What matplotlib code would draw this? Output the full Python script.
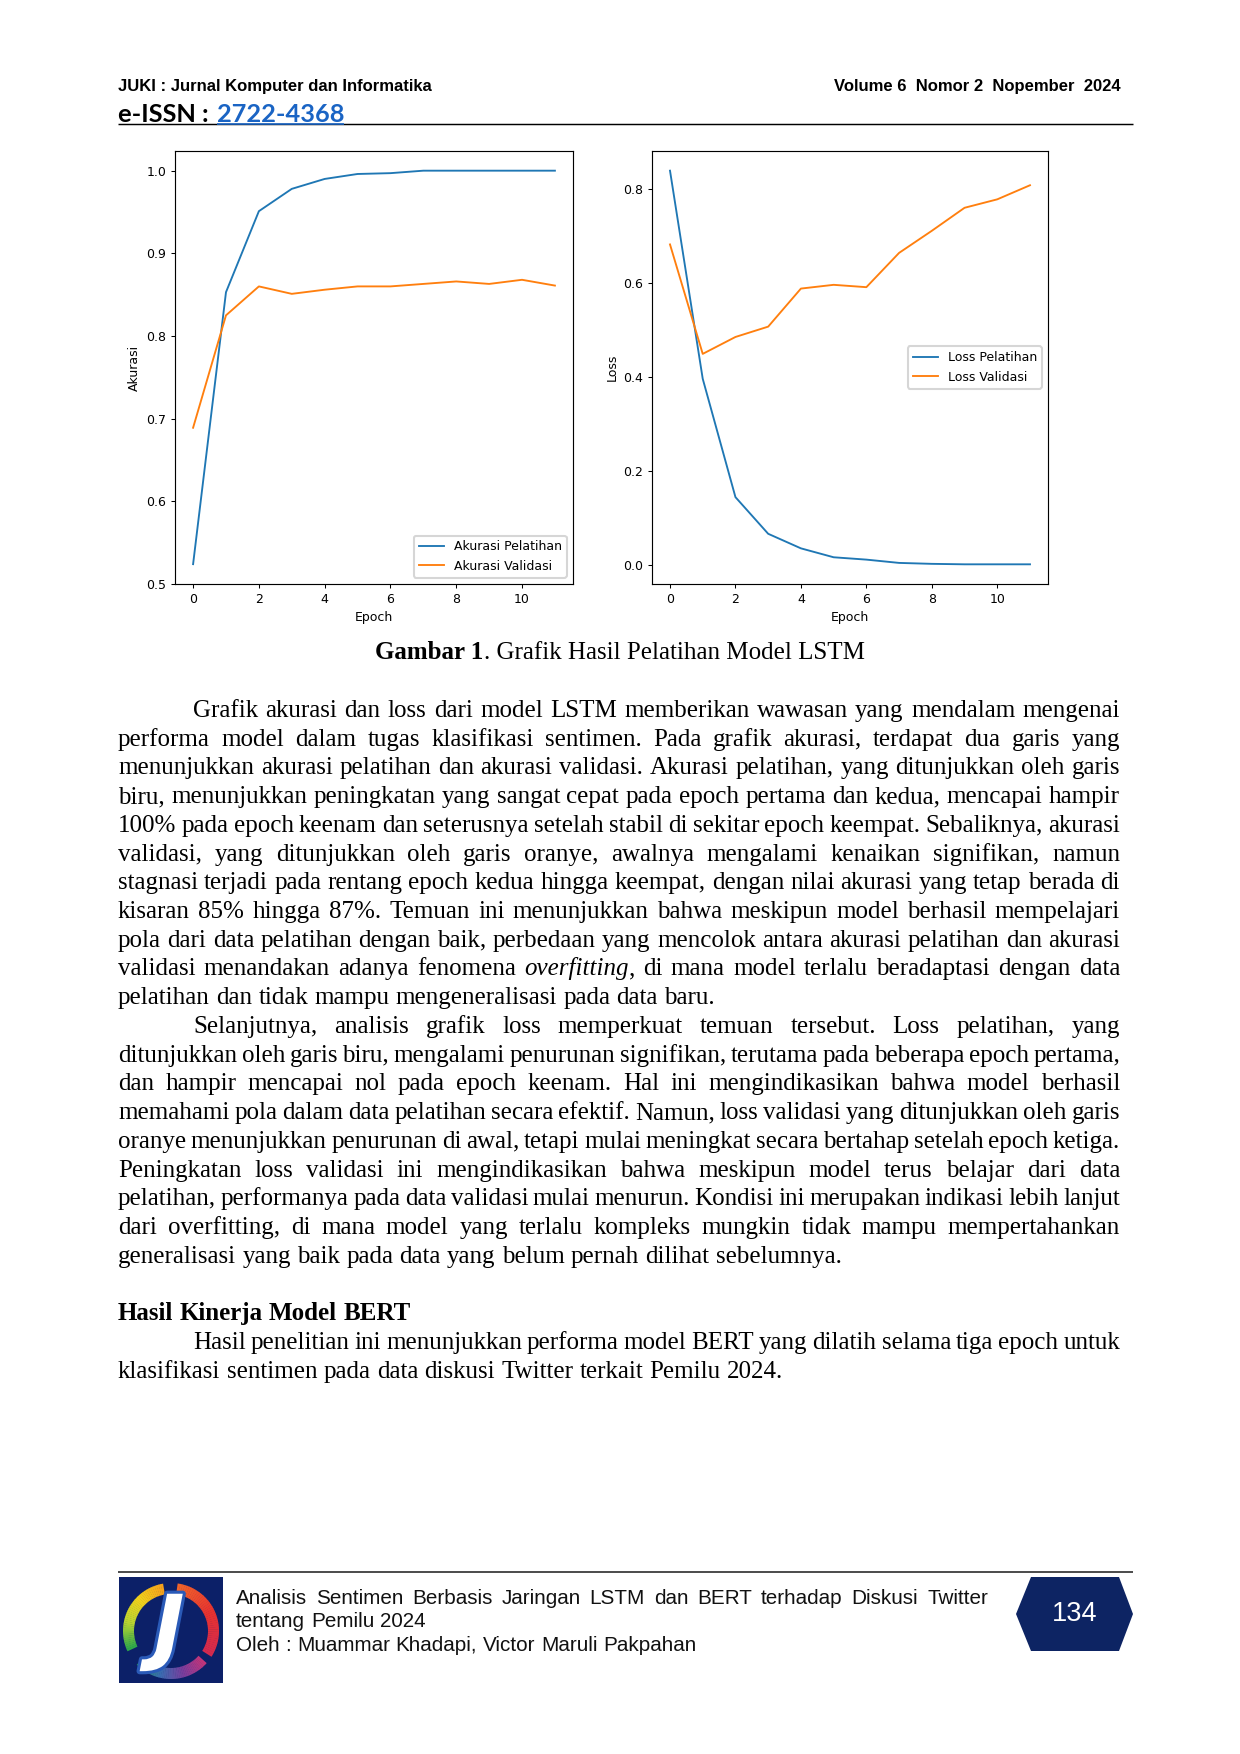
import matplotlib
matplotlib.use('Agg')
import matplotlib.pyplot as plt
import numpy as np
from matplotlib.patches import Polygon, Rectangle, Wedge
from matplotlib.lines import Line2D
from matplotlib.colors import LinearSegmentedColormap
import matplotlib.patheffects as pe

# ---------------- data ----------------
epochs = list(range(12))
acc_train = [0.524, 0.853, 0.951, 0.978, 0.990, 0.996, 0.997, 1.0, 1.0, 1.0, 1.0, 1.0]
acc_val = [0.689, 0.825, 0.860, 0.851, 0.856, 0.860, 0.860, 0.863, 0.866, 0.863, 0.868, 0.861]
loss_train = [0.839, 0.396, 0.144, 0.066, 0.035, 0.016, 0.011, 0.004, 0.002, 0.001, 0.001, 0.001]
loss_val = [0.682, 0.449, 0.485, 0.507, 0.588, 0.596, 0.591, 0.664, 0.711, 0.760, 0.778, 0.808]
epoch_ticks = [0, 2, 4, 6, 8, 10]
acc_ticks = [0.5, 0.6, 0.7, 0.8, 0.9, 1.0]
loss_ticks = [0.0, 0.2, 0.4, 0.6, 0.8]

header_left = "JUKI : Jurnal Komputer dan Informatika"
header_right = "Volume 6  Nomor 2  Nopember  2024"
issn_label = "e-ISSN : "
issn_number = "2722-4368"
caption_bold = "Gambar 1"
caption_rest = ". Grafik Hasil Pelatihan Model LSTM"

para1 = [
    "Grafik akurasi dan loss dari model LSTM memberikan wawasan yang mendalam mengenai",
    "performa model dalam tugas klasifikasi sentimen. Pada grafik akurasi, terdapat dua garis yang",
    "menunjukkan akurasi pelatihan dan akurasi validasi. Akurasi pelatihan, yang ditunjukkan oleh garis",
    "biru, menunjukkan peningkatan yang sangat cepat pada epoch pertama dan kedua, mencapai hampir",
    "100% pada epoch keenam dan seterusnya setelah stabil di sekitar epoch keempat. Sebaliknya, akurasi",
    "validasi, yang ditunjukkan oleh garis oranye, awalnya mengalami kenaikan signifikan, namun",
    "stagnasi terjadi pada rentang epoch kedua hingga keempat, dengan nilai akurasi yang tetap berada di",
    "kisaran 85% hingga 87%. Temuan ini menunjukkan bahwa meskipun model berhasil mempelajari",
    "pola dari data pelatihan dengan baik, perbedaan yang mencolok antara akurasi pelatihan dan akurasi",
    "validasi menandakan adanya fenomena *overfitting*, di mana model terlalu beradaptasi dengan data",
    "pelatihan dan tidak mampu mengeneralisasi pada data baru.",
]
para2 = [
    "Selanjutnya, analisis grafik loss memperkuat temuan tersebut. Loss pelatihan, yang",
    "ditunjukkan oleh garis biru, mengalami penurunan signifikan, terutama pada beberapa epoch pertama,",
    "dan hampir mencapai nol pada epoch keenam. Hal ini mengindikasikan bahwa model berhasil",
    "memahami pola dalam data pelatihan secara efektif. Namun, loss validasi yang ditunjukkan oleh garis",
    "oranye menunjukkan penurunan di awal, tetapi mulai meningkat secara bertahap setelah epoch ketiga.",
    "Peningkatan loss validasi ini mengindikasikan bahwa meskipun model terus belajar dari data",
    "pelatihan, performanya pada data validasi mulai menurun. Kondisi ini merupakan indikasi lebih lanjut",
    "dari overfitting, di mana model yang terlalu kompleks mungkin tidak mampu mempertahankan",
    "generalisasi yang baik pada data yang belum pernah dilihat sebelumnya.",
]
heading = "Hasil Kinerja Model BERT"
para3 = [
    "Hasil penelitian ini menunjukkan performa model BERT yang dilatih selama tiga epoch untuk",
    "klasifikasi sentimen pada data diskusi Twitter terkait Pemilu 2024.",
]
footer_lines = [
    "Analisis Sentimen Berbasis Jaringan LSTM dan BERT terhadap Diskusi Twitter",
    "tentang Pemilu 2024",
    "Oleh : Muammar Khadapi, Victor Maruli Pakpahan",
]
page_number = "134"

# ---------------- figure ----------------
W, H = 1240, 1754
DPI = 150
fig = plt.figure(figsize=(W / DPI, H / DPI), dpi=DPI)
fig.patch.set_facecolor('white')
renderer = fig.canvas.get_renderer()

bg = fig.add_axes([0, 0, 1, 1])
bg.set_xlim(0, W)
bg.set_ylim(H, 0)
bg.axis('off')


def width_of(t):
    return t.get_window_extent(renderer=renderer).width


def put(x, y, s, **kw):
    kw.setdefault('va', 'baseline')
    kw.setdefault('ha', 'left')
    return bg.text(x, y, s, **kw)


def hline(x0, x1, y, lw, color):
    bg.add_line(Line2D([x0, x1], [y, y], lw=lw, color=color, solid_capstyle='butt'))


def fit_size(s, target, **kw):
    t = put(0, 0, s, fontsize=10, **kw)
    w = width_of(t)
    t.remove()
    return 10 * target / w


SERIF = 'Liberation Serif'
BODY = 12


def parse_word(word):
    segs = []
    if '*' in word:
        parts = word.split('*')
        for i, p in enumerate(parts):
            if p:
                segs.append((p, 'italic' if i % 2 == 1 else 'normal'))
    else:
        segs.append((word, 'normal'))
    return segs


def space_width(size, weight='normal', family=SERIF):
    a = put(0, 0, 'a a', fontsize=size, family=family, weight=weight)
    b = put(0, 0, 'aa', fontsize=size, family=family, weight=weight)
    sw = width_of(a) - width_of(b)
    a.remove(); b.remove()
    return sw


def draw_line(line, x0, x1, y, justify, size=BODY, weight='normal', family=SERIF, color='black'):
    words = line.split(' ')
    groups = []
    for w in words:
        objs = []
        for s, st in parse_word(w):
            objs.append(put(x0, y, s, fontsize=size, family=family, style=st,
                            weight=weight, color=color))
        groups.append(objs)
    gw = [sum(width_of(o) for o in g) for g in groups]
    if justify and len(groups) > 1:
        gap = (x1 - x0 - sum(gw)) / (len(groups) - 1)
    else:
        gap = space_width(size, weight, family)
    x = x0
    for g, w in zip(groups, gw):
        xx = x
        for o in g:
            o.set_x(xx)
            xx += width_of(o)
        x += w + gap


# ---------------- header ----------------
hs = fit_size(header_left, 314, family='Liberation Sans', weight='bold')
put(118, 91, header_left, fontsize=hs, family='Liberation Sans', weight='bold')
put(1121, 91, header_right, fontsize=hs, family='Liberation Sans', weight='bold', ha='right')

hline(118, 1133, 124.3, 0.7, 'black')
ns = fit_size(issn_number, 128, family='Lato', weight='bold')
put(118, 121.5, issn_label, fontsize=ns, family='Lato', weight='bold')
put(217, 121.5, issn_number, fontsize=ns, family='Lato', weight='bold', color='#1a64c4')
hline(217, 344, 123.8, 0.8, '#1a64c4')

# ---------------- charts ----------------
plt.rcParams.update({
    'font.family': 'DejaVu Sans',
    'font.size': 6,
    'axes.linewidth': 0.55,
    'xtick.major.size': 2.1, 'ytick.major.size': 2.1,
    'xtick.major.width': 0.5, 'ytick.major.width': 0.5,
    'xtick.major.pad': 2.1, 'ytick.major.pad': 2.1,
    'xtick.labelsize': 6, 'ytick.labelsize': 6,
    'axes.labelsize': 6, 'axes.labelpad': 2.4,
    'legend.fontsize': 6,
    'lines.linewidth': 0.9,
})


def add_ax(x0, x1, y0, y1):
    return fig.add_axes([x0 / W, 1 - y1 / H, (x1 - x0) / W, (y1 - y0) / H])


ax1 = add_ax(175, 573, 151, 584)
ax1.plot(epochs, acc_train, color='#1f77b4', label='Akurasi Pelatihan')
ax1.plot(epochs, acc_val, color='#ff7f0e', label='Akurasi Validasi')
ax1.set_xticks(epoch_ticks)
ax1.set_yticks(acc_ticks)
ax1.set_xlabel('Epoch')
ax1.set_ylabel('Akurasi')
ax1.legend(loc='lower right')

ax2 = add_ax(652, 1048, 151, 584)
ax2.plot(epochs, loss_train, color='#1f77b4', label='Loss Pelatihan')
ax2.plot(epochs, loss_val, color='#ff7f0e', label='Loss Validasi')
ax2.set_xticks(epoch_ticks)
ax2.set_yticks(loss_ticks)
ax2.set_xlabel('Epoch')
ax2.set_ylabel('Loss')
ax2.legend(loc='center right')

# ---------------- caption ----------------
cb = put(0, 659, caption_bold, fontsize=BODY, family=SERIF, weight='bold')
cr = put(0, 659, caption_rest, fontsize=BODY, family=SERIF)
wb, wr = width_of(cb), width_of(cr)
start = 620 - (wb + wr) / 2
cb.set_x(start)
cr.set_x(start + wb)

# ---------------- body ----------------
LM, RM, IND = 118, 1120, 193
y0, LS = 717, 28.72
idx = 0
for para in (para1, para2):
    for i, line in enumerate(para):
        draw_line(line, IND if i == 0 else LM, RM, y0 + LS * idx, justify=(i < len(para) - 1))
        idx += 1
idx += 1
draw_line(heading, LM, RM, y0 + LS * idx, justify=False, weight='bold')
idx += 1
for i, line in enumerate(para3):
    draw_line(line, IND if i == 0 else LM, RM, y0 + LS * idx, justify=(i < len(para3) - 1))
    idx += 1

# ---------------- footer ----------------
hline(118, 1133, 1571.5, 0.9, '#444444')

# logo
bg.add_patch(Rectangle((119, 1577), 104, 106, facecolor='#0c2068', edgecolor='none'))
cx, cy, R, RW = 171, 1631, 48, 11


def arc(a0, a1, colors, n=40):
    cmap = LinearSegmentedColormap.from_list('arc', colors)
    angs = np.linspace(a0, a1, n + 1)
    for i in range(n):
        lo, hi = sorted((-angs[i], -angs[i + 1]))
        bg.add_patch(Wedge((cx, cy), R, lo, hi + 0.5, width=RW,
                           facecolor=cmap(i / (n - 1)), edgecolor='none'))


arc(100, 205, ['#f5a11c', '#f2d21b', '#b8d431', '#2ea84a'])
arc(82, -32, ['#f0642a', '#e8322f', '#d42a4f'])
arc(-42, -135, ['#c2357a', '#7a3d9c', '#3a6bb0', '#1f9a55'])
put(169, 1631, 'J', fontsize=40, family='DejaVu Sans', weight='bold', style='italic',
    color='white', ha='center', va='center',
    path_effects=[pe.withStroke(linewidth=3, foreground='#2a5ab8')])

# footer text
FN = 'Liberation Sans'
fs = fit_size(footer_lines[0], 752, family=FN) * 0.96
draw_line(footer_lines[0], 236, 988, 1603.5, justify=True, size=fs, family=FN, color='#111111')
draw_line(footer_lines[1], 236, 988, 1627, justify=False, size=fs, family=FN, color='#111111')
draw_line(footer_lines[2], 236, 988, 1651, justify=False, size=fs, family=FN, color='#111111')

# page hexagon
hexpts = [(1016, 1614), (1031, 1577), (1119, 1577), (1133, 1614), (1119, 1651), (1031, 1651)]
bg.add_patch(Polygon(hexpts, closed=True, facecolor='#0d2463', edgecolor='none'))
put(1075, 1614, page_number, fontsize=13, family='Liberation Sans', color='white',
    ha='center', va='center')

fig.savefig('out.png', dpi=DPI, facecolor='white')
